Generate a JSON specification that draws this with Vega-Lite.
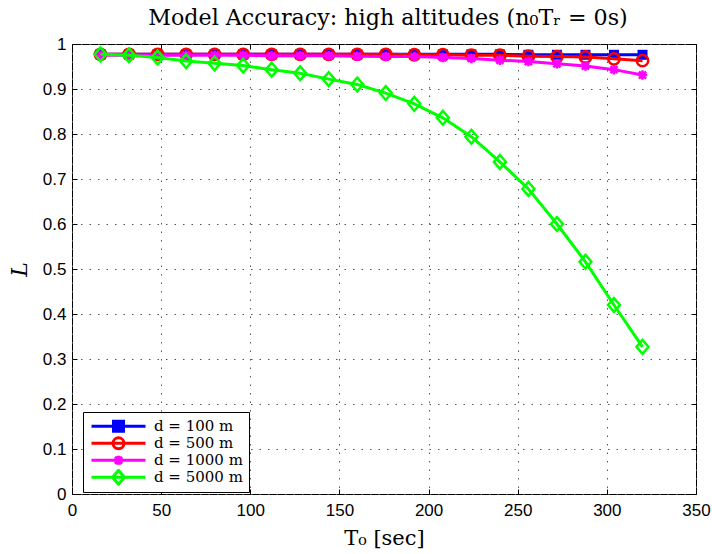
{
  "$schema": "https://vega.github.io/schema/vega-lite/v6.json",
  "width": 624,
  "height": 450,
  "autosize": {"type": "none"},
  "padding": {"left": 72, "top": 44, "right": 16, "bottom": 60},
  "background": "white",
  "title": {"text": "Model Accuracy: high altitudes (n₀Tᵣ = 0s)", "font": "DejaVu Serif", "fontSize": 22.2, "fontWeight": "normal", "color": "black", "anchor": "middle", "offset": 6, "dx": 4},
  "config": {
    "view": {"stroke": "black", "strokeWidth": 1},
    "axis": {"labelFont": "Liberation Sans", "labelFontSize": 17, "labelColor": "black", "labelFlush": false, "tickColor": "black", "tickSize": -5, "tickWidth": 1, "domain": false, "gridColor": "#555", "gridDash": [1.5, 7], "gridWidth": 1, "titleFont": "DejaVu Serif", "titleFontWeight": "normal", "titleColor": "black"},
    "legend": {"orient": "none", "legendX": 11, "legendY": 368, "title": null, "strokeColor": "black", "fillColor": "white", "padding": 6, "labelFont": "DejaVu Serif", "labelFontSize": 15, "labelColor": "black", "symbolSize": 100, "symbolStrokeWidth": 3, "labelOffset": 50, "clipHeight": 16.7, "rowPadding": 0, "symbolOpacity": 1}
  },
  "data": {"values": [
    {"T0": 16, "d": "d = 100 m", "L": 0.977}, {"T0": 32, "d": "d = 100 m", "L": 0.977}, {"T0": 48, "d": "d = 100 m", "L": 0.977}, {"T0": 64, "d": "d = 100 m", "L": 0.977}, {"T0": 80, "d": "d = 100 m", "L": 0.977}, {"T0": 96, "d": "d = 100 m", "L": 0.977}, {"T0": 112, "d": "d = 100 m", "L": 0.977}, {"T0": 128, "d": "d = 100 m", "L": 0.977}, {"T0": 144, "d": "d = 100 m", "L": 0.977}, {"T0": 160, "d": "d = 100 m", "L": 0.977}, {"T0": 176, "d": "d = 100 m", "L": 0.977}, {"T0": 192, "d": "d = 100 m", "L": 0.977}, {"T0": 208, "d": "d = 100 m", "L": 0.977}, {"T0": 224, "d": "d = 100 m", "L": 0.977}, {"T0": 240, "d": "d = 100 m", "L": 0.977}, {"T0": 256, "d": "d = 100 m", "L": 0.976}, {"T0": 272, "d": "d = 100 m", "L": 0.976}, {"T0": 288, "d": "d = 100 m", "L": 0.976}, {"T0": 304, "d": "d = 100 m", "L": 0.976}, {"T0": 320, "d": "d = 100 m", "L": 0.976},
    {"T0": 16, "d": "d = 500 m", "L": 0.977}, {"T0": 32, "d": "d = 500 m", "L": 0.977}, {"T0": 48, "d": "d = 500 m", "L": 0.977}, {"T0": 64, "d": "d = 500 m", "L": 0.977}, {"T0": 80, "d": "d = 500 m", "L": 0.977}, {"T0": 96, "d": "d = 500 m", "L": 0.977}, {"T0": 112, "d": "d = 500 m", "L": 0.977}, {"T0": 128, "d": "d = 500 m", "L": 0.977}, {"T0": 144, "d": "d = 500 m", "L": 0.977}, {"T0": 160, "d": "d = 500 m", "L": 0.977}, {"T0": 176, "d": "d = 500 m", "L": 0.977}, {"T0": 192, "d": "d = 500 m", "L": 0.976}, {"T0": 208, "d": "d = 500 m", "L": 0.976}, {"T0": 224, "d": "d = 500 m", "L": 0.975}, {"T0": 240, "d": "d = 500 m", "L": 0.975}, {"T0": 256, "d": "d = 500 m", "L": 0.973}, {"T0": 272, "d": "d = 500 m", "L": 0.972}, {"T0": 288, "d": "d = 500 m", "L": 0.971}, {"T0": 304, "d": "d = 500 m", "L": 0.967}, {"T0": 320, "d": "d = 500 m", "L": 0.963},
    {"T0": 16, "d": "d = 1000 m", "L": 0.975}, {"T0": 32, "d": "d = 1000 m", "L": 0.975}, {"T0": 48, "d": "d = 1000 m", "L": 0.975}, {"T0": 64, "d": "d = 1000 m", "L": 0.975}, {"T0": 80, "d": "d = 1000 m", "L": 0.975}, {"T0": 96, "d": "d = 1000 m", "L": 0.975}, {"T0": 112, "d": "d = 1000 m", "L": 0.974}, {"T0": 128, "d": "d = 1000 m", "L": 0.974}, {"T0": 144, "d": "d = 1000 m", "L": 0.974}, {"T0": 160, "d": "d = 1000 m", "L": 0.973}, {"T0": 176, "d": "d = 1000 m", "L": 0.972}, {"T0": 192, "d": "d = 1000 m", "L": 0.972}, {"T0": 208, "d": "d = 1000 m", "L": 0.970}, {"T0": 224, "d": "d = 1000 m", "L": 0.968}, {"T0": 240, "d": "d = 1000 m", "L": 0.964}, {"T0": 256, "d": "d = 1000 m", "L": 0.961}, {"T0": 272, "d": "d = 1000 m", "L": 0.956}, {"T0": 288, "d": "d = 1000 m", "L": 0.951}, {"T0": 304, "d": "d = 1000 m", "L": 0.943}, {"T0": 320, "d": "d = 1000 m", "L": 0.931},
    {"T0": 16, "d": "d = 5000 m", "L": 0.977}, {"T0": 32, "d": "d = 5000 m", "L": 0.975}, {"T0": 48, "d": "d = 5000 m", "L": 0.970}, {"T0": 64, "d": "d = 5000 m", "L": 0.962}, {"T0": 80, "d": "d = 5000 m", "L": 0.957}, {"T0": 96, "d": "d = 5000 m", "L": 0.952}, {"T0": 112, "d": "d = 5000 m", "L": 0.943}, {"T0": 128, "d": "d = 5000 m", "L": 0.935}, {"T0": 144, "d": "d = 5000 m", "L": 0.922}, {"T0": 160, "d": "d = 5000 m", "L": 0.910}, {"T0": 176, "d": "d = 5000 m", "L": 0.891}, {"T0": 192, "d": "d = 5000 m", "L": 0.867}, {"T0": 208, "d": "d = 5000 m", "L": 0.836}, {"T0": 224, "d": "d = 5000 m", "L": 0.794}, {"T0": 240, "d": "d = 5000 m", "L": 0.738}, {"T0": 256, "d": "d = 5000 m", "L": 0.678}, {"T0": 272, "d": "d = 5000 m", "L": 0.600}, {"T0": 288, "d": "d = 5000 m", "L": 0.516}, {"T0": 304, "d": "d = 5000 m", "L": 0.420}, {"T0": 320, "d": "d = 5000 m", "L": 0.327}
  ]},
  "layer": [
    {
      "transform": [{"filter": "datum.d === 'd = 100 m'"}],
      "mark": {"type": "line", "color": "#0000ff", "strokeWidth": 3, "point": {"shape": "square", "filled": true, "size": 100, "color": "#0000ff"}},
      "encoding": {
        "x": {"field": "T0", "type": "quantitative", "scale": {"domain": [0, 350], "nice": false}, "axis": {"orient": "bottom", "values": [0, 50, 100, 150, 200, 250, 300, 350], "format": "d", "labelPadding": 13, "title": "T₀ [sec]", "titleFontSize": 21, "titleBaseline": "middle", "titleY": 44, "titleX": 312}},
        "y": {"field": "L", "type": "quantitative", "scale": {"domain": [0, 1], "nice": false}, "axis": {"orient": "left", "values": [0, 0.1, 0.2, 0.3, 0.4, 0.5, 0.6, 0.7, 0.8, 0.9, 1], "format": "~g", "labelPadding": 11, "title": "L", "titleFontSize": 22, "titleFontStyle": "italic", "titleBaseline": "middle", "titleX": -53, "titleY": 225}}
      }
    },
    {
      "transform": [{"filter": "datum.d === 'd = 500 m'"}],
      "mark": {"type": "line", "color": "#ff0000", "strokeWidth": 3, "point": {"shape": "circle", "filled": false, "size": 130, "strokeWidth": 2.5, "color": "#ff0000"}},
      "encoding": {
        "x": {"field": "T0", "type": "quantitative", "scale": {"domain": [0, 350], "nice": false}, "axis": null},
        "y": {"field": "L", "type": "quantitative", "scale": {"domain": [0, 1], "nice": false}, "axis": null}
      }
    },
    {
      "transform": [{"filter": "datum.d === 'd = 1000 m'"}],
      "mark": {"type": "line", "color": "#ff00ff", "strokeWidth": 3, "point": {"shape": "M-1,0H1M0,-1V1M-0.75,-0.75L0.75,0.75M-0.75,0.75L0.75,-0.75", "filled": false, "size": 90, "strokeWidth": 2.5, "color": "#ff00ff"}},
      "encoding": {
        "x": {"field": "T0", "type": "quantitative", "scale": {"domain": [0, 350], "nice": false}, "axis": null},
        "y": {"field": "L", "type": "quantitative", "scale": {"domain": [0, 1], "nice": false}, "axis": null}
      }
    },
    {
      "transform": [{"filter": "datum.d === 'd = 5000 m'"}],
      "mark": {"type": "line", "color": "#00ff00", "strokeWidth": 3, "point": {"shape": "M0,-1.15L1,0L0,1.15L-1,0Z", "filled": false, "size": 144, "strokeWidth": 2.5, "color": "#00ff00"}},
      "encoding": {
        "x": {"field": "T0", "type": "quantitative", "scale": {"domain": [0, 350], "nice": false}, "axis": null},
        "y": {"field": "L", "type": "quantitative", "scale": {"domain": [0, 1], "nice": false}, "axis": null}
      }
    },
    {
      "transform": [{"filter": "datum.T0 < 0"}],
      "mark": {"type": "point", "strokeWidth": 3, "opacity": 1},
      "encoding": {
        "x": {"field": "T0", "type": "quantitative", "scale": {"domain": [0, 350], "nice": false}, "axis": {"orient": "top", "values": [0, 50, 100, 150, 200, 250, 300, 350], "labels": false, "grid": false, "title": null}},
        "y": {"field": "L", "type": "quantitative", "scale": {"domain": [0, 1], "nice": false}, "axis": {"orient": "right", "values": [0, 0.1, 0.2, 0.3, 0.4, 0.5, 0.6, 0.7, 0.8, 0.9, 1], "labels": false, "grid": false, "title": null}},
        "stroke": {"field": "d", "type": "nominal", "scale": {"domain": ["d = 100 m", "d = 500 m", "d = 1000 m", "d = 5000 m"], "range": ["#0000ff", "#ff0000", "#ff00ff", "#00ff00"]}},
        "fill": {"field": "d", "type": "nominal", "scale": {"domain": ["d = 100 m", "d = 500 m", "d = 1000 m", "d = 5000 m"], "range": ["#0000ff", "transparent", "transparent", "transparent"]}},
        "shape": {"field": "d", "type": "nominal", "scale": {"domain": ["d = 100 m", "d = 500 m", "d = 1000 m", "d = 5000 m"], "range": ["M-1,0H9.8M3.4,-1H5.4V1H3.4Z", "M-1,0H9.8M5.5,0A1.1,1.1,0,1,1,3.3,0A1.1,1.1,0,1,1,5.5,0Z", "M-1,0H9.8M4.4,-0.9V0.9M3.7,-0.7L5.1,0.7M3.7,0.7L5.1,-0.7", "M-1,0H9.8M4.4,-1.4L5.6,0L4.4,1.4L3.2,0Z"]}}
      }
    }
  ],
  "resolve": {"axis": {"x": "independent", "y": "independent"}}
}
